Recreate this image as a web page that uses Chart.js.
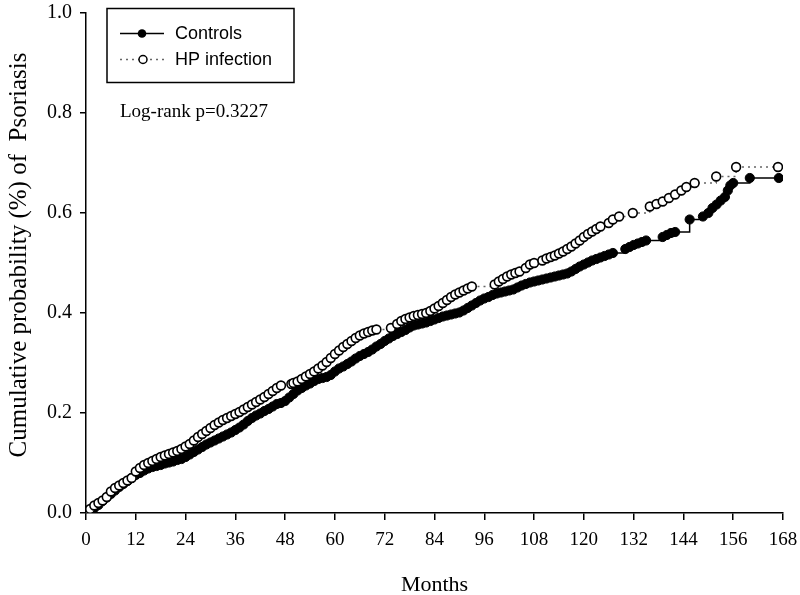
<!DOCTYPE html>
<html>
<head>
<meta charset="utf-8">
<script src="https://cdn.jsdelivr.net/npm/chart.js@4"></script>
<style>
  html, body { margin: 0; padding: 0; background: #fff; }
  #wrap { width: 800px; height: 595px; }
</style>
</head>
<body>
<div id="wrap"><canvas id="kmChart" width="800" height="595"></canvas></div>
<script>
// months / cumulative probability
const controlsMonths = [0,1,2,3,4,5,6,7,8,9,10,11,12,13,14,15,16,17,18,19,20,21,22,23,24,25,26,27,28,29,30,31,32,33,34,35,36,37,38,39,40,41,42,43,44,45,46,47,48,49,50,51,52,53,54,55,56,57,58,59,60,61,62,63,64,65,66,67,68,69,70,71,72,73,74,75,76,77,78,79,80,81,82,83,84,85,86,87,88,89,90,91,92,93,94,95,96,97,98,99,100,101,102,103,104,105,106,107,108,109,110,111,112,113,114,115,116,117,118,119,120,121,122,123,124,125,126,127,130,131,132,133,134,135,139,140,141,142,145.5,148.7,150,151,152,153,154,154.7,155.3,156,160,167];
const controlsProb = [0,0.005,0.01,0.016,0.024,0.031,0.038,0.045,0.052,0.058,0.064,0.07,0.076,0.08,0.085,0.089,0.092,0.094,0.096,0.099,0.101,0.103,0.106,0.108,0.112,0.117,0.122,0.127,0.132,0.137,0.141,0.145,0.149,0.153,0.157,0.161,0.166,0.171,0.177,0.184,0.19,0.195,0.199,0.204,0.208,0.213,0.218,0.22,0.224,0.231,0.238,0.245,0.25,0.255,0.259,0.264,0.268,0.27,0.272,0.276,0.283,0.289,0.293,0.298,0.303,0.309,0.314,0.318,0.322,0.327,0.333,0.338,0.344,0.349,0.354,0.358,0.362,0.366,0.371,0.375,0.377,0.379,0.381,0.384,0.387,0.39,0.393,0.395,0.397,0.399,0.401,0.405,0.41,0.415,0.42,0.425,0.429,0.432,0.436,0.439,0.441,0.443,0.445,0.447,0.451,0.455,0.458,0.461,0.463,0.465,0.467,0.469,0.471,0.473,0.475,0.477,0.479,0.483,0.488,0.493,0.497,0.501,0.505,0.508,0.511,0.514,0.517,0.52,0.528,0.532,0.536,0.539,0.542,0.545,0.552,0.556,0.56,0.562,0.587,0.593,0.6,0.61,0.617,0.625,0.632,0.645,0.655,0.66,0.67,0.67];

const hpMonths = [0,1,2,3,4,5,6,7,8,9,10,11,12,13,14,15,16,17,18,19,20,21,22,23,24,25,26,27,28,29,30,31,32,33,34,35,36,37,38,39,40,41,42,43,44,45,46,47,49.5,50,51,52,53,54,55,56,57,58,59,60,61,62,63,64,65,66,67,68,69,70,73.5,75,76,77,78,79,80,81,82,83,84,85,86,87,88,89,90,91,92,93,98.5,99.5,100.5,101.5,102.5,103.5,104.5,106,107,108,110,111,112,113,114,115,116,117,118,119,120,121,122,123,124,126,127,128.5,131.8,135.9,137.5,139,140.5,142,143.5,144.7,146.7,151.9,156.7,166.8];
const hpProb = [0,0.008,0.015,0.02,0.025,0.032,0.043,0.05,0.055,0.06,0.065,0.07,0.083,0.09,0.096,0.1,0.104,0.108,0.112,0.115,0.118,0.121,0.124,0.128,0.133,0.138,0.145,0.152,0.158,0.164,0.17,0.176,0.181,0.186,0.19,0.194,0.198,0.202,0.207,0.212,0.217,0.222,0.227,0.232,0.238,0.244,0.25,0.255,0.258,0.26,0.263,0.268,0.273,0.278,0.283,0.289,0.295,0.302,0.31,0.318,0.325,0.332,0.338,0.344,0.35,0.355,0.359,0.362,0.365,0.367,0.37,0.378,0.384,0.388,0.391,0.394,0.396,0.398,0.4,0.404,0.409,0.414,0.42,0.426,0.432,0.437,0.441,0.445,0.449,0.453,0.457,0.463,0.468,0.473,0.477,0.48,0.483,0.49,0.497,0.5,0.505,0.509,0.512,0.515,0.519,0.523,0.528,0.533,0.539,0.545,0.552,0.558,0.563,0.568,0.573,0.58,0.587,0.593,0.6,0.613,0.618,0.623,0.63,0.637,0.645,0.652,0.66,0.673,0.692,0.692];

const xTicks = [0,12,24,36,48,60,72,84,96,108,120,132,144,156,168];
const yTicks = [0,0.2,0.4,0.6,0.8,1.0];

const seriesNames = ["Controls", "HP infection"];
const logRankText = "Log-rank p=0.3227";
const xTitle = "Months";
const yTitle = "Cumulative probability (%) of  Psoriasis";

const toPoints = (xs, ys) => xs.map((x, i) => ({ x: x, y: ys[i] }));

const serif = "'Liberation Serif', 'Times New Roman', serif";
const sans = "'Liberation Sans', Arial, sans-serif";

// legend box, p-value and axis titles
const decorations = {
  id: "decorations",
  afterDraw(chart) {
    const c = chart.ctx;
    const area = chart.chartArea;
    c.save();

    // legend
    c.strokeStyle = "#000";
    c.lineWidth = 1.5;
    c.strokeRect(107, 8.5, 187, 74);

    c.beginPath();
    c.moveTo(120, 33.5);
    c.lineTo(164, 33.5);
    c.stroke();
    c.beginPath();
    c.arc(142, 33.5, 4.3, 0, Math.PI * 2);
    c.fillStyle = "#000";
    c.fill();

    c.setLineDash([2, 4]);
    c.strokeStyle = "#666";
    c.beginPath();
    c.moveTo(120, 59.5);
    c.lineTo(164, 59.5);
    c.stroke();
    c.setLineDash([]);
    c.beginPath();
    c.arc(143, 59.5, 4, 0, Math.PI * 2);
    c.fillStyle = "#fff";
    c.fill();
    c.strokeStyle = "#000";
    c.lineWidth = 1.5;
    c.stroke();

    c.fillStyle = "#000";
    c.font = "18px " + sans;
    c.textBaseline = "middle";
    c.textAlign = "left";
    c.fillText(seriesNames[0], 175, 34);
    c.fillText(seriesNames[1], 175, 60);

    c.font = "19px " + serif;
    c.textBaseline = "alphabetic";
    c.fillText(logRankText, 120, 117);

    // axis titles
    c.font = "22px " + serif;
    c.textAlign = "center";
    c.fillText(xTitle, (area.left + area.right) / 2, 591);

    c.translate(26, 255);
    c.rotate(-Math.PI / 2);
    c.font = "25px " + serif;
    c.fillText(yTitle, 0, 0);
    c.restore();
  }
};

new Chart(document.getElementById("kmChart"), {
  type: "line",
  data: {
    datasets: [
      {
        label: seriesNames[0],
        data: toPoints(controlsMonths, controlsProb),
        stepped: "before",
        borderColor: "#000",
        borderWidth: 1.5,
        pointRadius: 4.6,
        pointBackgroundColor: "#000",
        pointBorderColor: "#000",
        pointBorderWidth: 1,
        order: 1
      },
      {
        label: seriesNames[1],
        data: toPoints(hpMonths, hpProb),
        stepped: "before",
        borderColor: "#666",
        borderWidth: 1.5,
        borderDash: [2, 4],
        pointRadius: 4.4,
        pointBackgroundColor: "#fff",
        pointBorderColor: "#000",
        pointBorderWidth: 1.6,
        order: 0
      }
    ]
  },
  options: {
    responsive: false,
    animation: false,
    events: [],
    layout: { padding: { top: 13, right: 17, left: 0, bottom: 0 } },
    plugins: {
      legend: { display: false },
      tooltip: { enabled: false }
    },
    scales: {
      x: {
        type: "linear",
        min: 0,
        max: 168,
        afterFit: (scale) => {
          scale.height = 82;
          scale.paddingLeft = 0;
          scale.paddingRight = 0;
        },
        afterBuildTicks: (scale) => { scale.ticks = xTicks.map((v) => ({ value: v })); },
        grid: { drawOnChartArea: false, drawTicks: true, tickLength: 7, color: "#000", lineWidth: 1.5 },
        border: { display: true, color: "#000", width: 1.5 },
        ticks: {
          color: "#000",
          padding: 9,
          maxRotation: 0,
          autoSkip: false,
          font: { family: serif, size: 19 },
          callback: (v) => String(v)
        }
      },
      y: {
        type: "linear",
        min: 0,
        max: 1,
        afterFit: (scale) => {
          scale.width = 86;
          scale.paddingTop = 0;
          scale.paddingBottom = 0;
        },
        afterBuildTicks: (scale) => { scale.ticks = yTicks.map((v) => ({ value: v })); },
        grid: { drawOnChartArea: false, drawTicks: true, tickLength: 6, color: "#000", lineWidth: 1.5 },
        border: { display: true, color: "#000", width: 1.5 },
        ticks: {
          color: "#000",
          padding: 8,
          font: { family: serif, size: 20 },
          callback: (v) => Number(v).toFixed(1)
        }
      }
    }
  },
  plugins: [decorations]
});
</script>
</body>
</html>
